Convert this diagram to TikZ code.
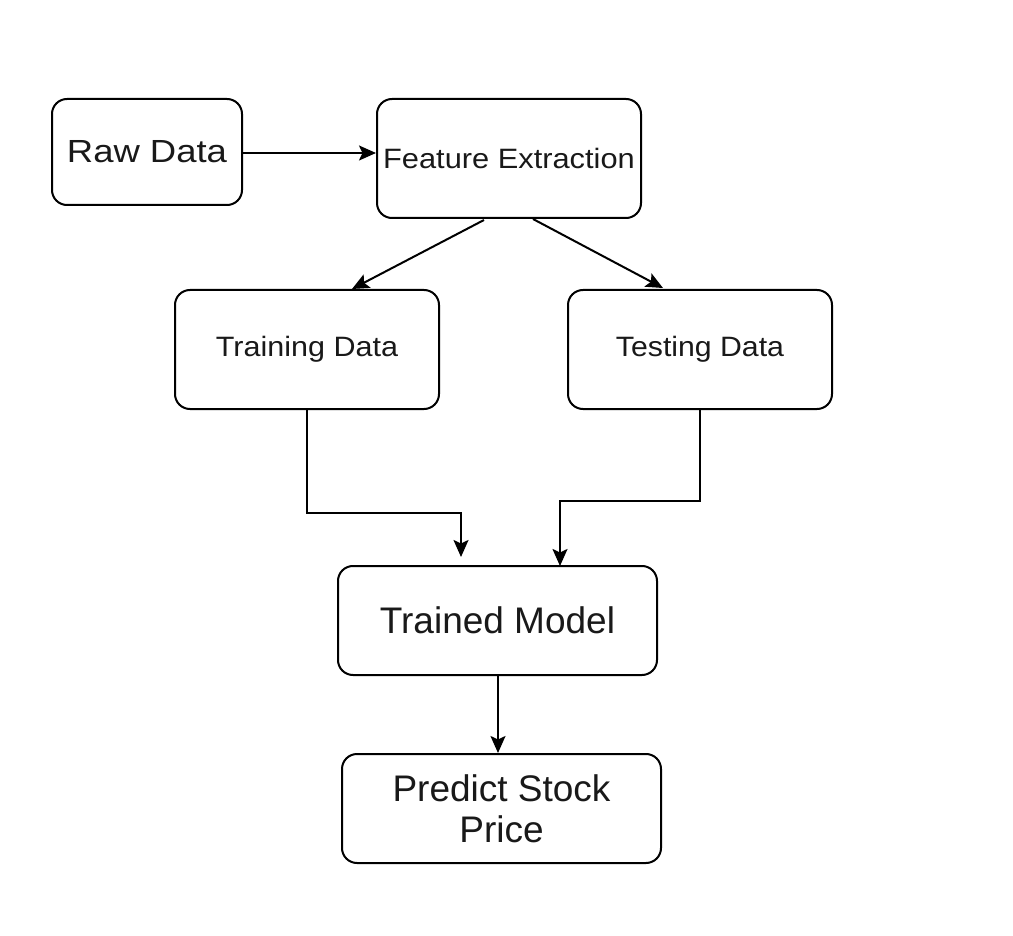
\documentclass[tikz,border=0pt]{standalone}
\usepackage{fontspec}
\setmainfont{Liberation Sans}
\usetikzlibrary{arrows.meta,calc}
\begin{document}
\begin{tikzpicture}[x=1pt,y=-1pt,
  box/.style={draw=black, line width=2pt, rounded corners=15pt, fill=white, align=center, inner sep=0pt, text=black!90},
  big/.style={font=\fontsize{37}{41}\selectfont},
  small/.style={font=\fontsize{28}{34}\selectfont},
  arr/.style={draw=black, line width=2pt, -{Stealth[length=17pt,width=15pt,inset=3.5pt]}}]
\useasboundingbox[fill=white] (0,0) rectangle (1013,936);
\node[box, font=\fontsize{32}{38}\selectfont, minimum width=190pt, minimum height=106pt] (raw) at (147,152) {\scalebox{1.14}[1]{Raw Data}};
\node[box, small, minimum width=264pt, minimum height=119pt] (fe) at (509,158.5) {\scalebox{1.1}[1]{Feature Extraction}};
\node[box, small, minimum width=264pt, minimum height=119pt] (train) at (307,349.5) {\scalebox{1.09}[1]{Training Data}};
\node[box, small, minimum width=264pt, minimum height=119pt] (test) at (700,349.5) {\scalebox{1.08}[1]{Testing Data}};
\node[box, big, minimum width=319pt, minimum height=109pt] (model) at (497.5,620.5) {Trained Model};
\node[box, big, minimum width=319pt, minimum height=109pt] (pred) at (501.5,808.5) {Predict Stock\\Price};
\coordinate (ms) at ($(model.south)+(0.5,0)$);
\draw[arr] (raw.east |- 0,153) -- (fe.west |- 0,153);
\draw[arr] ($(fe.south)+(-25,1)$) -- ($(train.north)+(45,0)$);
\draw[arr] ($(fe.south)+(24,0)$) -- ($(test.north)+(-37,-1)$);
\draw[arr] (train.south) |- ($(model.north)+(-36.5,-52)$) -- ($(model.north)+(-36.5,-8)$);
\draw[arr] (test.south) |- ($(model.north)+(62.5,-64)$) -- ($(model.north)+(62.5,1)$);
\draw[arr] (ms) -- (ms |- pred.north);
\end{tikzpicture}
\end{document}
